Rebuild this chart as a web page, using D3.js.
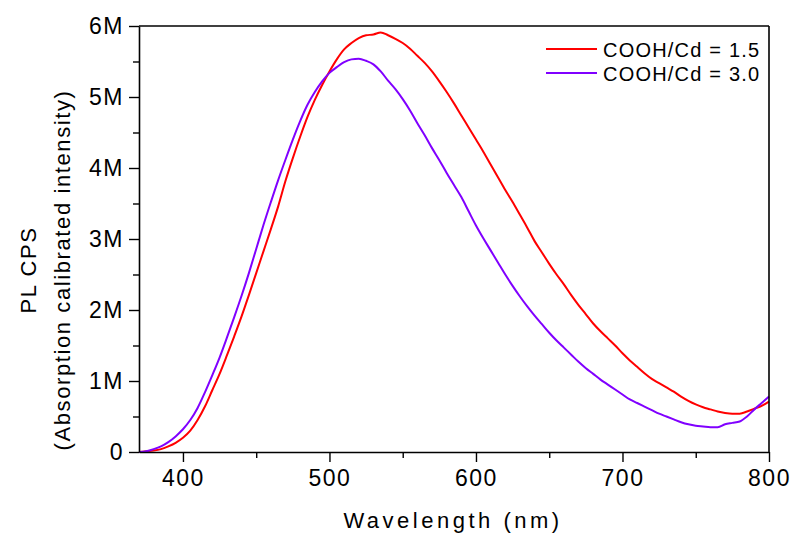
<!DOCTYPE html>
<html>
<head>
<meta charset="utf-8">
<script src="https://cdn.jsdelivr.net/npm/d3@7"></script>
<style>
  html, body { margin: 0; padding: 0; background: #fff; }
  svg { display: block; font-family: Arial, "Liberation Sans", sans-serif; }
</style>
</head>
<body>
<svg id="chart" width="794" height="533"></svg>
<script>
// Emission wavelength grid (nm)
const wavelengths = [
  370,375,380,385,390,395,400,405,410,415,420,425,430,435,440,445,450,455,460,465,
  470,475,480,485,490,495,500,505,510,515,520,525,530,535,540,545,550,555,560,565,
  570,575,580,585,590,595,600,605,610,615,620,625,630,635,640,645,650,655,660,665,
  670,675,680,685,690,695,700,705,710,715,720,725,730,735,740,745,750,755,760,765,
  770,775,780,785,790,795,800
];

// PL counts per second (millions), COOH/Cd = 1.5
const plRatio15 = [
  0.00,0.01,0.02,0.04,0.08,0.13,0.20,0.30,0.45,0.64,0.87,1.10,1.36,1.63,1.91,2.21,2.52,2.83,3.14,3.46,
  3.82,4.14,4.44,4.72,4.96,5.17,5.36,5.53,5.67,5.76,5.83,5.87,5.88,5.91,5.87,5.82,5.76,5.68,5.58,5.48,
  5.36,5.22,5.07,4.91,4.74,4.57,4.40,4.23,4.05,3.87,3.69,3.52,3.34,3.16,2.97,2.81,2.65,2.50,2.36,2.21,
  2.07,1.94,1.81,1.70,1.60,1.50,1.39,1.29,1.20,1.11,1.03,0.97,0.91,0.85,0.78,0.72,0.67,0.63,0.60,0.57,
  0.55,0.54,0.54,0.57,0.61,0.65,0.71
];

// PL counts per second (millions), COOH/Cd = 3.0
const plRatio30 = [
  0.00,0.01,0.04,0.08,0.14,0.22,0.32,0.45,0.62,0.84,1.08,1.33,1.61,1.90,2.20,2.52,2.86,3.20,3.52,3.83,
  4.12,4.40,4.66,4.89,5.07,5.22,5.34,5.42,5.49,5.53,5.54,5.51,5.46,5.36,5.23,5.11,4.97,4.81,4.63,4.46,
  4.28,4.11,3.93,3.76,3.59,3.39,3.19,3.01,2.84,2.67,2.50,2.34,2.19,2.05,1.92,1.80,1.68,1.57,1.47,1.37,
  1.27,1.18,1.10,1.02,0.95,0.88,0.81,0.74,0.69,0.64,0.59,0.54,0.50,0.46,0.42,0.39,0.37,0.36,0.35,0.35,
  0.39,0.41,0.43,0.50,0.60,0.69,0.78
];

const seriesNames = ["COOH/Cd = 1.5", "COOH/Cd = 3.0"];
const seriesColors = ["#ff0000", "#8000ff"];

const xMajorTicks = [400, 500, 600, 700, 800];
const xMinorTicks = [450, 550, 650, 750];
const yMajorTicks = [0, 1, 2, 3, 4, 5, 6];
const yTickLabels = ["0", "1M", "2M", "3M", "4M", "5M", "6M"];
const yMinorTicks = [0.5, 1.5, 2.5, 3.5, 4.5, 5.5];

const xTitle = "Wavelength (nm)";
const yTitle = ["PL CPS", "(Absorption calibrated intensity)"];

const svg = d3.select("#chart");
const margin = { top: 26, right: 25, bottom: 81, left: 139 };
const W = 794, H = 533;
const iw = W - margin.left - margin.right;
const ih = H - margin.top - margin.bottom;

const x = d3.scaleLinear().domain([370, 800]).range([0, iw]);
const y = d3.scaleLinear().domain([0, 6]).range([ih, 0]);

const g = svg.append("g").attr("transform", `translate(${margin.left},${margin.top})`);

// curves
const line = d3.line()
  .x(d => x(d[0]))
  .y(d => y(d[1]))
  .curve(d3.curveMonotoneX);

[plRatio15, plRatio30].forEach((vals, i) => {
  g.append("path")
    .datum(wavelengths.map((w, k) => [w, vals[k]]))
    .attr("fill", "none")
    .attr("stroke", seriesColors[i])
    .attr("stroke-width", 2)
    .attr("stroke-linejoin", "round")
    .attr("d", line);
});

// frame: top and right edges
g.append("line").attr("x1", 0).attr("x2", iw).attr("y1", 0).attr("y2", 0)
  .attr("stroke", "#000").attr("stroke-width", 1.6);
g.append("line").attr("x1", iw).attr("x2", iw).attr("y1", 0).attr("y2", ih)
  .attr("stroke", "#000").attr("stroke-width", 1.6);

function styleAxis(sel) {
  sel.select(".domain").attr("stroke", "#000").attr("stroke-width", 1.6);
  sel.selectAll(".tick line").attr("stroke", "#000").attr("stroke-width", 1.4);
}

// x axis
const xAxis = g.append("g").attr("transform", `translate(0,${ih})`)
  .call(d3.axisBottom(x).tickValues(xMajorTicks).tickSize(10).tickSizeOuter(0).tickPadding(8));
styleAxis(xAxis);
xAxis.selectAll(".tick text")
  .attr("fill", "#000").attr("font-size", 23).attr("letter-spacing", "1.5px")
  .attr("font-family", "Arial, 'Liberation Sans', sans-serif");
g.append("g").attr("transform", `translate(0,${ih})`)
  .call(d3.axisBottom(x).tickValues(xMinorTicks).tickSize(6).tickFormat(""))
  .call(s => { s.select(".domain").remove(); s.selectAll(".tick line").attr("stroke", "#000").attr("stroke-width", 1.4); });

// y axis
const yAxis = g.append("g")
  .call(d3.axisLeft(y).tickValues(yMajorTicks).tickSize(10).tickSizeOuter(0).tickPadding(5)
    .tickFormat((d, i) => yTickLabels[i]));
styleAxis(yAxis);
yAxis.selectAll(".tick text")
  .attr("fill", "#000").attr("font-size", 23).attr("letter-spacing", "1.5px")
  .attr("font-family", "Arial, 'Liberation Sans', sans-serif");
g.append("g")
  .call(d3.axisLeft(y).tickValues(yMinorTicks).tickSize(6).tickFormat(""))
  .call(s => { s.select(".domain").remove(); s.selectAll(".tick line").attr("stroke", "#000").attr("stroke-width", 1.4); });

// axis titles
svg.append("text")
  .attr("x", margin.left + iw / 2 - 1).attr("y", 528)
  .attr("text-anchor", "middle").attr("font-size", 22).attr("letter-spacing", "3.5px")
  .attr("fill", "#000").text(xTitle);

const yt = svg.append("text")
  .attr("transform", "translate(0,270) rotate(-90)")
  .attr("text-anchor", "middle").attr("font-size", 22).attr("letter-spacing", "1.6px")
  .attr("fill", "#000");
yt.append("tspan").attr("x", 0).attr("y", 36).text(yTitle[0]);
yt.append("tspan").attr("x", 0).attr("y", 70).text(yTitle[1]);

// legend
const legend = svg.append("g");
seriesNames.forEach((name, i) => {
  const ly = 49 + i * 24;
  legend.append("line").attr("x1", 546).attr("x2", 597).attr("y1", ly).attr("y2", ly)
    .attr("stroke", seriesColors[i]).attr("stroke-width", 2);
  legend.append("text").attr("x", 603).attr("y", ly + 8)
    .attr("font-size", 20).attr("letter-spacing", "1.2px").attr("fill", "#000").text(name);
});
</script>
</body>
</html>
